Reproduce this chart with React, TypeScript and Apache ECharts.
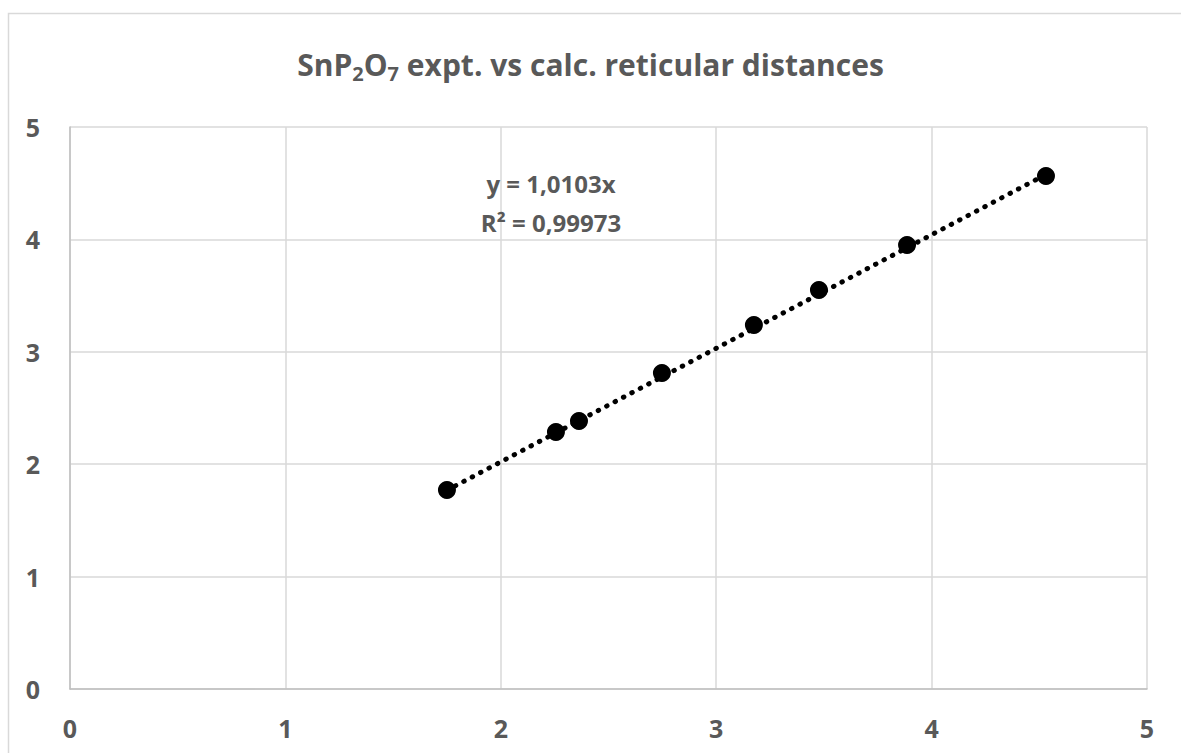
import React, { useEffect, useRef } from "react";
import * as echarts from "echarts";

const expt = [1.75, 2.256, 2.363, 2.748, 3.175, 3.477, 3.886, 4.531];
const calc = [1.77, 2.287, 2.384, 2.811, 3.238, 3.55, 3.95, 4.564];
const slope = 1.0103;
const r2Text = "0,99973";
const axisTicks = [0, 1, 2, 3, 4, 5];

export default function App() {
  const ref = useRef<HTMLDivElement>(null);
  useEffect(() => {
    if (!ref.current) return;
    const chart = echarts.init(ref.current, null, { renderer: "svg" });
    const xMin = Math.min(...expt);
    const xMax = Math.max(...expt);
    const trend = [
      [xMin, slope * xMin],
      [xMax, slope * xMax],
    ];
    const font = "'Open Sans', 'Noto Sans', sans-serif";
    chart.setOption({
      animation: false,
      backgroundColor: "#ffffff",
      title: {
        text: "{a|SnP}{s|2}{a|O}{s|7}{a| expt. vs calc. reticular distances}",
        left: "center",
        top: 40,
        textStyle: {
          rich: {
            a: { fontFamily: font, fontWeight: "bold", fontSize: 30, color: "#595959" },
            s: { fontFamily: font, fontWeight: "bold", fontSize: 20, color: "#595959", padding: [18, 0, 0, 0] },
          },
        },
      },
      grid: { left: 70, right: 34, top: 127, bottom: 64, containLabel: false },
      xAxis: {
        type: "value",
        min: axisTicks[0],
        max: axisTicks[axisTicks.length - 1],
        interval: 1,
        axisLine: { show: true, onZero: false, lineStyle: { color: "#bfbfbf", width: 1.5 } },
        axisTick: { show: false },
        splitLine: { show: true, lineStyle: { color: "#d9d9d9", width: 1.5 } },
        axisLabel: { fontFamily: font, fontWeight: "bold", fontSize: 25, color: "#595959", margin: 26 },
      },
      yAxis: {
        type: "value",
        min: axisTicks[0],
        max: axisTicks[axisTicks.length - 1],
        interval: 1,
        axisLine: { show: true, onZero: false, lineStyle: { color: "#bfbfbf", width: 1.5 } },
        axisTick: { show: false },
        splitLine: { show: true, lineStyle: { color: "#d9d9d9", width: 1.5 } },
        axisLabel: { fontFamily: font, fontWeight: "bold", fontSize: 25, color: "#595959", margin: 30 },
      },
      graphic: [
        {
          type: "rect",
          shape: { x: 8.5, y: 13.5, width: 1300, height: 900 },
          style: { fill: "none", stroke: "#d9d9d9", lineWidth: 1.5 },
          silent: true,
          z: -10,
        },
        {
          type: "text",
          x: 551,
          y: 183,
          style: {
            text: "y = " + String(slope).replace(".", ",") + "x",
            x: 0,
            y: 0,
            align: "center",
            verticalAlign: "middle",
            fontFamily: font,
            fontWeight: "bold",
            fontSize: 24,
            fill: "#595959",
          },
          z: 10,
        },
        {
          type: "text",
          x: 551,
          y: 222,
          style: {
            text: "R² = " + r2Text,
            x: 0,
            y: 0,
            align: "center",
            verticalAlign: "middle",
            fontFamily: font,
            fontWeight: "bold",
            fontSize: 24,
            fill: "#595959",
          },
          z: 10,
        },
      ],
      series: [
        {
          type: "line",
          data: trend,
          showSymbol: false,
          symbol: "none",
          lineStyle: { color: "#000000", width: 5, type: [0.5, 9], cap: "round" },
          z: 2,
        },
        {
          type: "scatter",
          data: expt.map((x, i) => [x, calc[i]]),
          symbol: "circle",
          symbolSize: 18,
          itemStyle: { color: "#000000", opacity: 1 },
          z: 3,
        },
      ],
    });
    return () => chart.dispose();
  }, []);
  return (
    <div
      ref={ref}
      style={{ position: "absolute", left: 0, top: 0, width: 1181, height: 753 }}
    />
  );
}
